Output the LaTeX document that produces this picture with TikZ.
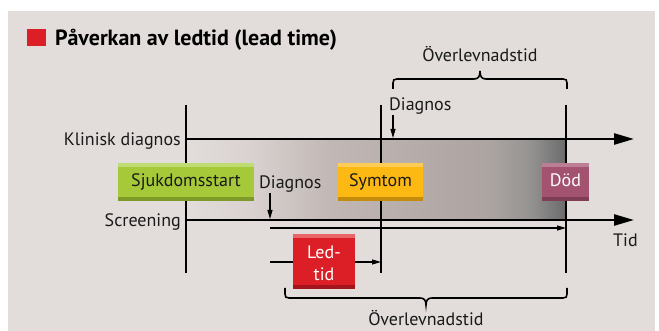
\documentclass[tikz,border=0pt]{standalone}
\usepackage{fontspec}
\setmainfont{PT Sans}
\usetikzlibrary{arrows.meta}
\definecolor{bgc}{HTML}{E2DDDA}
\definecolor{gA}{HTML}{D9D2D0}
\definecolor{gB}{HTML}{C1B8B5}
\definecolor{gC}{HTML}{B4AAA7}
\definecolor{gD}{HTML}{ACA4A1}
\definecolor{gE}{HTML}{959392}
\definecolor{gF}{HTML}{6B6B6B}
\definecolor{grM}{HTML}{A6C93A}
\definecolor{grT}{HTML}{BEDC72}
\definecolor{grB}{HTML}{7E9A28}
\definecolor{yeM}{HTML}{FDB913}
\definecolor{yeT}{HTML}{FFCC55}
\definecolor{yeB}{HTML}{C38C0C}
\definecolor{deM}{HTML}{A3536F}
\definecolor{deT}{HTML}{BC7E95}
\definecolor{deB}{HTML}{803D56}
\definecolor{reM}{HTML}{DC1F26}
\definecolor{reT}{HTML}{E8656A}
\definecolor{reB}{HTML}{A3141B}
\definecolor{txt}{HTML}{1A1A1A}
\pgfdeclarehorizontalshading{survgrad}{100bp}{color(0bp)=(bgc); color(25bp)=(bgc); color(33.4bp)=(gA); color(43.9bp)=(gB); color(57.1bp)=(gC); color(65bp)=(gD); color(70.3bp)=(gE); color(75bp)=(gF); color(100bp)=(gF)}
\tikzset{
  lbl/.style={font=\fontsize{18}{22}\selectfont, text=txt, inner sep=0pt},
  thickarrow/.style={line width=2.5pt, -{Triangle[length=20pt,width=11pt]}},
  vline/.style={line width=1.3pt, black},
  thinarrow/.style={line width=1.1pt, -{Triangle[length=9pt,width=5pt]}},
  bracestyle/.style={line width=1.6pt, black},
  evbox/.style n args={3}{rectangle, inner sep=0pt, fill=#1, text height=13pt, text depth=4pt,
    font=\fontsize{18}{22}\selectfont, minimum height=38pt,
    path picture={
      \fill[#2] (path picture bounding box.north west) rectangle ([yshift=-4pt]path picture bounding box.north east);
      \fill[#3] (path picture bounding box.south west) rectangle ([yshift=4pt]path picture bounding box.south east);
    }},
}
\begin{document}
\begin{tikzpicture}[x=1pt,y=-1pt]
\useasboundingbox (0,0) rectangle (659,331);
\fill[white] (0,0) rectangle (659,331);
\fill[bgc] (8,11) rectangle (655,331);
% title
\fill[reM] (27,29) rectangle (46,46);
\node[anchor=base west, inner sep=0pt, font=\fontsize{22}{26}\selectfont\bfseries, text=black] (title) at (55,46) {Påverkan av ledtid (lead time)};
% gradient
\shade[shading=survgrad] (186,139) rectangle (566,220);
% vertical lines
\coordinate (v1t) at (186,105); \coordinate (v1b) at (186,273);
\coordinate (v2t) at (381,105); \coordinate (v2b) at (381,273);
\coordinate (v3t) at (566,105); \coordinate (v3b) at (566,273);
\draw[vline] (v1t) -- (v1b);
\draw[vline] (v2t) -- (v2b);
\draw[vline] (v3t) -- (v3b);
% main lines
\coordinate (kS) at (186,139); \coordinate (kE) at (634,139);
\coordinate (sS) at (186,220); \coordinate (sE) at (634,220);
\draw[thickarrow] (kS) -- (kE);
\draw[thickarrow] (sS) -- (sE);
\node[lbl, anchor=base east] (klin) at (181,145.5) {Klinisk diagnos};
\node[lbl, anchor=base east] (scr) at (181,226.5) {Screening};
\node[lbl, anchor=base west] (tid) at (613,246.5) {Tid};
% diagnos arrows
\node[lbl, anchor=base west] (diag1) at (389,110.5) {Diagnos};
\coordinate (d1t) at (393,115); \coordinate (d1b) at (393,138);
\draw[thinarrow] (d1t) -- (d1b);
\node[lbl, anchor=base west] (diag2) at (259,189) {Diagnos};
\coordinate (d2t) at (270,193); \coordinate (d2b) at (270,219);
\draw[thinarrow] (d2t) -- (d2b);
% thin time arrows
\coordinate (tA) at (270,228); \coordinate (tB) at (566,228);
\draw[thinarrow] (tA) -- (tB);
\coordinate (lA) at (270,262); \coordinate (lB) at (381,262);
\draw[thinarrow] (lA) -- (lB);
% boxes
\node[evbox={grM}{grT}{grB}, minimum width=136pt, text=txt] (sjuk) at (186,182) {Sjukdomsstart};
\node[evbox={yeM}{yeT}{yeB}, minimum width=85pt, text=txt] (sym) at (380.5,182) {Symtom};
\node[evbox={deM}{deT}{deB}, minimum width=47pt, text=white] (dod) at (565.5,182) {Död};
\node[rectangle, inner sep=0pt, fill=reM, minimum width=62pt, minimum height=55pt,
  path picture={
      \fill[reT] (path picture bounding box.north west) rectangle ([yshift=-4pt]path picture bounding box.north east);
      \fill[reB] (path picture bounding box.south west) rectangle ([yshift=4pt]path picture bounding box.south east);
    }] (ledbox) at (324,261.5) {};
\node[lbl, text=white, align=center, font=\fontsize{18}{22}\selectfont, anchor=base] (led) at (324,280) {Led-\\tid};
% top brace
\draw[bracestyle] (393,89) -- (393,83) .. controls (393,80) and (394,79) .. (397,79) -- (474,79)
  .. controls (478,79) and (480,77) .. (480,71) .. controls (480,77) and (482,79) .. (486,79)
  -- (563,79) .. controls (566,79) and (567,80) .. (567,83) -- (567,89);
\node[lbl, anchor=base] (ov1) at (480,61.5) {Överlevnadstid};
% bottom brace
\draw[bracestyle] (285,288) -- (285,294) .. controls (285,297) and (286,298) .. (289,298) -- (420,298)
  .. controls (424,298) and (426,300) .. (426,305) .. controls (426,300) and (428,298) .. (432,298)
  -- (563,298) .. controls (566,298) and (567,297) .. (567,294) -- (567,288);
\node[lbl, anchor=base] (ov2) at (426,325) {Överlevnadstid};
\end{tikzpicture}
\end{document}
